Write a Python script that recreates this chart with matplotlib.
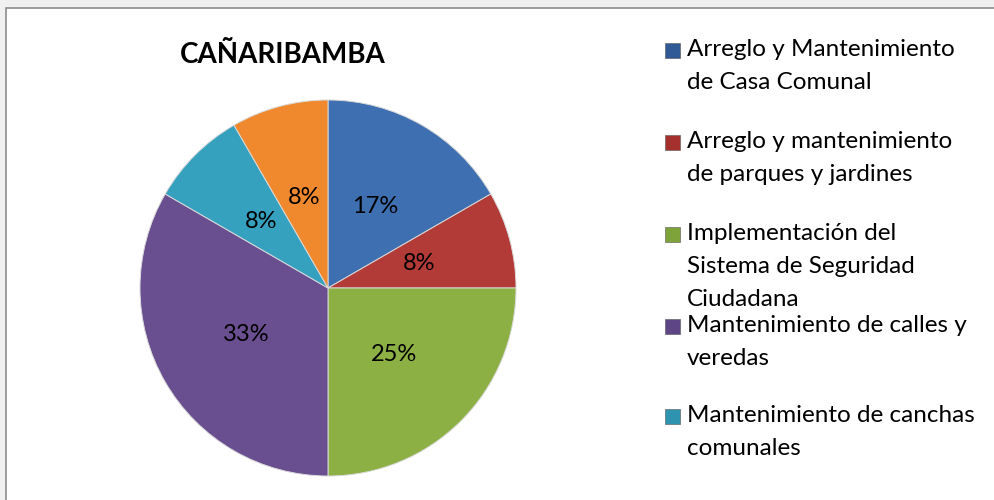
import matplotlib
matplotlib.use("Agg")
import matplotlib.pyplot as plt
from matplotlib.patches import Rectangle

plt.rcParams['font.family'] = ['Lato', 'DejaVu Sans']

title = 'CAÑARIBAMBA'
categories = ['Arreglo y Mantenimiento\nde Casa Comunal',
              'Arreglo y mantenimiento\nde parques y jardines',
              'Implementación del\nSistema de Seguridad\nCiudadana',
              'Mantenimiento de calles y\nveredas',
              'Mantenimiento de canchas\ncomunales',
              'Otros']
values = [2, 1, 3, 4, 1, 1]
colors = ['#3d6fb1', '#b23a37', '#8cb043', '#6a4f90', '#35a1bf', '#f0892e']
marker_colors = ['#2f5a96', '#a5302d', '#7ea33a', '#5e4585', '#2e93ae']

W, H = 995, 500
fig = plt.figure(figsize=(W / 100, H / 100), dpi=100)
fig.patch.set_facecolor('#f0f0f0')

# chart area frame
fig.patches.append(Rectangle((6 / W, -0.05), 1.1, (H - 8) / H + 0.05,
                             transform=fig.transFigure, facecolor='white',
                             edgecolor='#8c8c8c', linewidth=1.2, zorder=-10))

# pie
cx, cy, r = 328, 288, 188
ax = fig.add_axes([(cx - r) / W, (H - cy - r) / H, 2 * r / W, 2 * r / H])
ax.set_zorder(5)
ax.patch.set_visible(False)
wedges, texts, autotexts = ax.pie(values, colors=colors, startangle=90,
                                  counterclock=False, radius=1,
                                  autopct='%1.0f%%', pctdistance=0.5,
                                  wedgeprops=dict(edgecolor='#d9d9d9', linewidth=0.7),
                                  textprops=dict(fontsize=17, color='black'))
ax.set_xlim(-1.0, 1.0)
ax.set_ylim(-1.0, 1.0)
ax.set_aspect('equal')
ax.axis('off')

fig.text(283 / W, 1 - 55 / H, title, ha='center', va='center',
         fontsize=20, fontweight='bold')

# legend (only five entries fit in the original)
first_line_y = [50, 142, 234, 326, 416]
line_h = 32.5
for lab, col, y0 in zip(categories[:5], marker_colors, first_line_y):
    fig.patches.append(Rectangle((665 / W, 1 - (y0 + 8) / H), 15 / W, 15 / H,
                                 transform=fig.transFigure, facecolor=col,
                                 edgecolor='#555555', linewidth=0.4))
    for k, line in enumerate(lab.split('\n')):
        fig.text(687 / W, 1 - (y0 + k * line_h) / H, line, ha='left',
                 va='center', fontsize=17.5)

fig.savefig('out.png', dpi=100, facecolor=fig.get_facecolor())
